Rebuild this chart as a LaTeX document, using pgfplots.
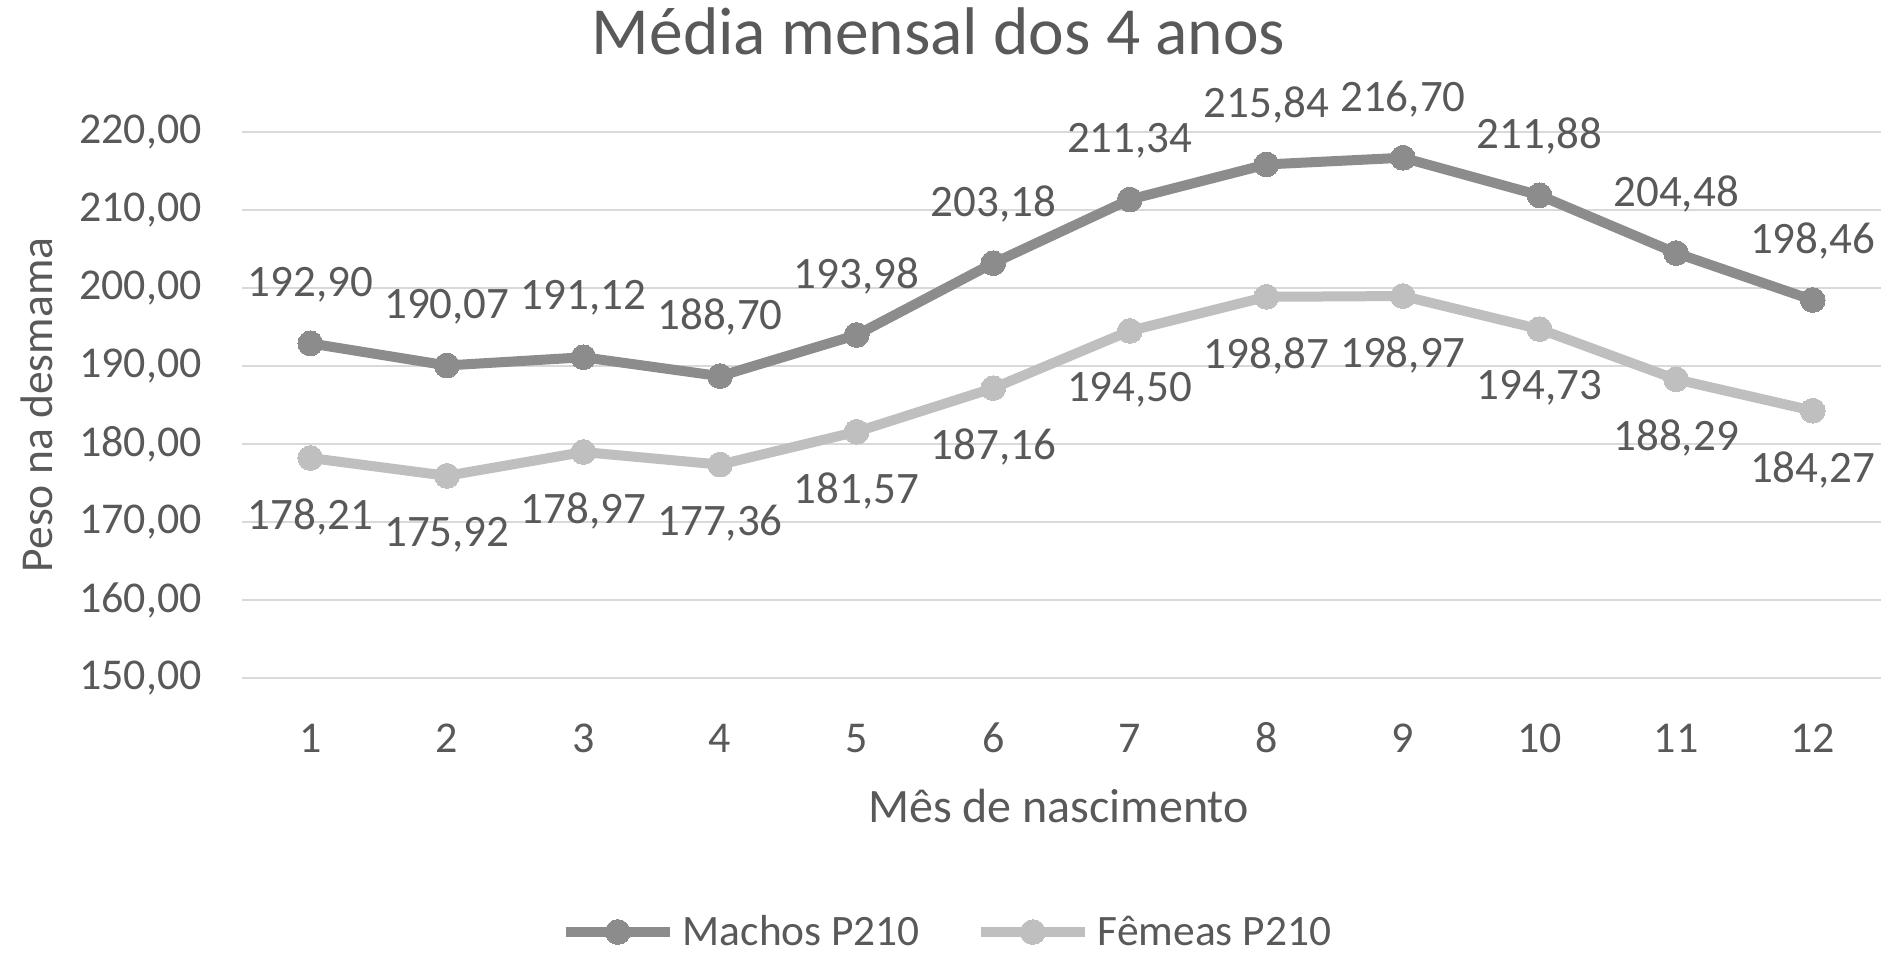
\documentclass[border=0pt]{standalone}
\usepackage{pgfplots}
\pgfplotsset{compat=1.18}
\usepackage{fontspec}
\setmainfont{Carlito}
\definecolor{txt}{HTML}{595959}
\definecolor{darkg}{HTML}{8C8C8C}
\definecolor{lightg}{HTML}{BFBFBF}
\definecolor{gridc}{HTML}{D9D9D9}
\pgfplotsset{/pgf/number format/assume math mode=true}
\begin{document}
\begin{tikzpicture}
\useasboundingbox (-121pt,-138.5pt) rectangle (822pt,339pt);
\begin{axis}[
  at={(0,0)}, anchor=south west,
  scale only axis, width=819.5pt, height=273pt,
  xmin=0.5, xmax=12.5, ymin=150, ymax=220,
  xtick={1,...,12}, ytick={150,160,...,220},
  clip=false,
  axis line style={draw=none},
  major tick length=0pt,
  ymajorgrids, grid style={draw=gridc, line width=1.3pt},
  yticklabel style={font=\fontsize{22}{26}\selectfont, text=txt, anchor=east, inner sep=0pt, xshift=-20pt,
    /pgf/number format/fixed, /pgf/number format/fixed zerofill, /pgf/number format/precision=2,
    /pgf/number format/use comma, /pgf/number format/1000 sep={}},
  xticklabel style={font=\fontsize{22}{26}\selectfont, text=txt, anchor=base, inner sep=0pt, yshift=-37pt},
  xlabel={Mês de nascimento},
  xlabel style={font=\fontsize{24}{29}\selectfont, text=txt, inner sep=0pt, at={(axis description cs:0.49817,-0.26374)}, anchor=base},
  ylabel={Peso na desmama},
  ylabel style={font=\fontsize{22.8}{28}\selectfont, text=txt, inner sep=0pt, at={(axis description cs:-0.11592,0.5)}, anchor=base},
  legend columns=2,
  legend style={draw=none, fill=none, at={(axis description cs:0.4295,-0.4652)}, anchor=center,
    font=\fontsize{21.7}{26}\selectfont, text=txt, inner sep=0pt,
    nodes={inner sep=0pt},
    /tikz/every odd column/.style={column sep=4pt},
    /tikz/every even column/.style={column sep=28pt}},
  legend image code/.code={\draw[mark repeat=2,mark phase=2,#1] plot coordinates {(0pt,0pt) (26pt,0pt) (52pt,0pt)};},
  nodes near coords,
  every node near coord/.append style={font=\fontsize{22.5}{27}\selectfont, text=txt, anchor=center,
    /pgf/number format/fixed, /pgf/number format/fixed zerofill, /pgf/number format/precision=2,
    /pgf/number format/use comma, /pgf/number format/1000 sep={}},
]
\addplot[darkg, line width=5pt, mark=*, mark size=6.2pt, mark options={solid, fill=darkg, draw=darkg, line width=0pt},
  every node near coord/.append style={yshift=29.5pt}] coordinates {
(1,192.90) (2,190.07) (3,191.12) (4,188.70) (5,193.98) (6,203.18)
(7,211.34) (8,215.84) (9,216.70) (10,211.88) (11,204.48) (12,198.46)};
\addlegendentry{Machos P210}
\addplot[lightg, line width=5pt, mark=*, mark size=6.2pt, mark options={solid, fill=lightg, draw=lightg, line width=0pt},
  every node near coord/.append style={yshift=-29.5pt}] coordinates {
(1,178.21) (2,175.92) (3,178.97) (4,177.36) (5,181.57) (6,187.16)
(7,194.50) (8,198.87) (9,198.97) (10,194.73) (11,188.29) (12,184.27)};
\addlegendentry{Fêmeas P210}
\end{axis}
\node[font=\fontsize{33.7}{40}\selectfont, text=txt, inner sep=0pt, anchor=base] at (348.25pt,311.5pt) {Média mensal dos 4 anos};
\end{tikzpicture}
\end{document}
